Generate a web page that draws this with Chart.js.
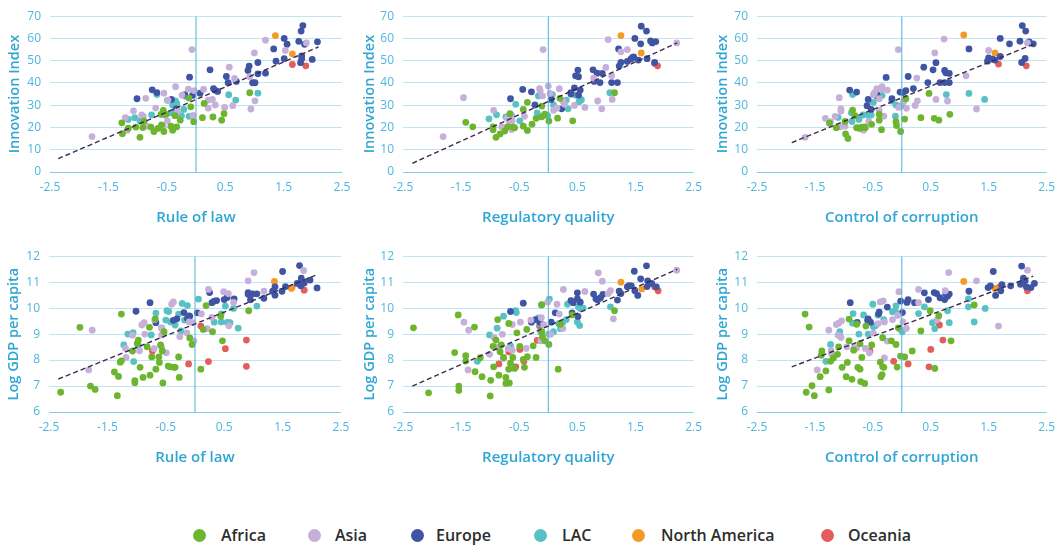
<!DOCTYPE html>
<html><head><meta charset="utf-8">
<script src="https://cdn.jsdelivr.net/npm/chart.js@4"></script>
<style>
body{margin:0;background:#fff;width:1063px;height:545px;position:relative;overflow:hidden;font-family:"Open Sans",sans-serif;}
canvas{position:absolute;}
.lg{position:absolute;top:524px;height:22px;font:600 16px "Open Sans";color:#2d2d2d;line-height:22px;white-space:nowrap;}
.dot{position:absolute;width:13px;height:13px;border-radius:50%;top:529px;}
</style></head><body>
<canvas id="c1" width="360" height="235"></canvas>
<canvas id="c2" width="360" height="235"></canvas>
<canvas id="c3" width="360" height="235"></canvas>
<canvas id="c4" width="360" height="235"></canvas>
<canvas id="c5" width="360" height="235"></canvas>
<canvas id="c6" width="360" height="235"></canvas>
<div id="legend"></div>
<script>
// ---------- DATA ----------
const regions = ['Africa','Asia','Europe','LAC','North America','Oceania'];
const xTitles = ['Rule of law','Regulatory quality','Control of corruption','Rule of law','Regulatory quality','Control of corruption'];
const yTitles = ['Innovation Index','Innovation Index','Innovation Index','Log GDP per capita','Log GDP per capita','Log GDP per capita'];
const xTickValues = [-2.5,-1.5,-0.5,0.5,1.5,2.5];
const innovRange = [0,70,10];
const gdpRange = [6,12,1];

// Panel 1: Rule of law vs Innovation Index
const africa1 = [[-1.27,22.1],[-1.26,17.2],[-1.16,19.7],[-1.03,20.2],[-0.96,15.6],[-0.91,20.0],[-0.89,22.9],[-0.77,20.2],[-0.72,18.2],[-0.65,19.6],[-0.59,21.2],[-0.56,27.7],[-0.55,18.2],[-0.60,25.9],[-0.51,25.9],[-0.43,20.6],[-0.40,18.8],[-0.33,20.3],[-0.36,25.3],[-0.27,23.3],[-0.12,33.2],[-0.09,29.3],[-0.04,22.6],[0.14,30.8],[0.11,24.4],[0.29,24.7],[0.44,23.3],[0.48,26.2],[0.92,35.6]];
const asia1 = [[-1.78,15.9],[-0.07,55.0],[1.19,59.2],[1.89,58.0],[1.53,54.6],[1.00,53.5],[0.57,47.1],[0.66,42.0],[0.92,42.8],[1.01,32.0],[0.94,28.3],[0.63,29.8],[0.49,29.0],[0.33,30.1],[0.28,32.6],[0.21,32.3],[0.13,37.2],[0.21,28.7],[-0.03,36.6],[-0.13,37.2],[-0.05,25.4],[-0.24,34.5],[-0.35,38.3],[-0.55,35.4],[-0.48,32.3],[-0.69,28.7],[-0.86,33.1],[-0.90,25.0],[-0.93,25.6],[-1.07,27.5],[-1.21,24.4],[-1.18,18.7],[-0.83,20.6],[-0.56,20.6],[-0.49,23.0],[-0.32,27.2]];
const europe1 = [[1.83,65.8],[1.80,63.3],[1.51,60.0],[1.76,58.7],[1.56,57.4],[1.86,57.4],[2.08,58.5],[1.33,55.3],[1.81,52.2],[1.81,50.9],[1.51,50.9],[1.37,49.8],[1.99,50.6],[1.79,49.1],[1.06,49.2],[0.91,47.6],[0.89,45.6],[0.24,45.9],[1.06,44.1],[1.19,44.4],[0.52,42.9],[-0.11,42.6],[0.55,40.1],[0.69,40.7],[0.97,40.1],[1.01,40.1],[0.30,37.5],[0.32,36.8],[0.37,36.2],[0.07,35.4],[-0.75,36.9],[-0.67,35.7],[-1.01,32.9],[-0.06,34.4],[-0.19,34.7],[-0.42,32.6],[-0.34,28.4]];
const lac1 = [[1.06,35.4],[0.68,32.3],[0.56,34.7],[-0.67,34.8],[-0.49,32.2],[-0.35,31.9],[-0.33,30.8],[-0.21,28.1],[-0.19,34.1],[-1.16,23.6],[-1.05,24.4],[-0.96,23.0],[-0.76,25.6],[-0.43,26.6],[-0.25,25.3],[-0.12,25.0],[-0.40,30.1],[-0.55,25.7]];
const na1 = [[1.36,61.3],[1.65,53.1]];
const oce1 = [[1.65,48.3],[1.88,47.7]];
const trend1 = [[-2.36,6.0],[2.10,56.2]];

// Panel 2: Regulatory quality vs Innovation Index
const africa2 = [[-1.42,22.3],[-1.30,20.3],[-0.95,20.3],[-0.95,19.0],[-0.90,15.6],[-0.83,17.1],[-0.75,18.4],[-0.70,20.3],[-0.66,26.2],[-0.61,20.2],[-0.58,19.9],[-0.43,20.6],[-0.43,28.1],[-0.36,31.3],[-0.36,18.7],[-0.28,21.5],[-0.21,24.1],[-0.11,29.6],[-0.11,24.8],[-0.06,26.0],[0.01,22.9],[0.16,24.2],[0.20,33.1],[0.42,23.0],[1.14,35.6]];
const asia2 = [[-1.81,15.9],[-1.46,33.4],[-0.09,55.0],[1.03,59.5],[1.25,54.0],[1.36,55.0],[2.21,58.0],[0.99,47.0],[1.09,43.2],[0.78,42.2],[1.10,32.6],[0.85,31.9],[0.92,28.4],[0.63,29.0],[0.45,29.9],[0.00,38.6],[-0.15,37.5],[-0.14,36.5],[-0.10,34.2],[0.03,35.3],[0.19,37.4],[0.09,27.8],[0.15,28.7],[0.28,30.4],[0.25,31.9],[-0.41,25.0],[-0.63,25.4],[-0.71,24.1],[-0.94,27.7],[-0.67,22.7],[-0.62,23.0],[-0.63,19.1],[-0.80,20.3]];
const europe2 = [[1.60,65.5],[1.69,63.3],[1.49,60.0],[1.59,57.6],[1.76,58.9],[1.79,58.0],[1.85,58.6],[1.21,55.3],[1.25,49.2],[1.36,49.7],[1.42,50.7],[1.45,51.5],[1.47,51.7],[1.55,50.3],[1.70,50.9],[1.83,49.2],[1.22,47.6],[0.77,45.9],[0.51,45.8],[0.84,44.4],[0.93,44.3],[0.47,43.2],[0.52,42.8],[0.79,40.7],[0.89,40.2],[1.09,40.2],[1.19,40.2],[0.45,37.8],[0.55,36.8],[0.39,35.7],[0.39,35.0],[0.52,34.5],[-0.44,37.1],[-0.29,36.0],[-0.65,32.9],[-0.23,30.1],[0.23,28.4],[0.05,32.6]];
const lac2 = [[1.06,35.6],[0.07,34.8],[-0.17,34.2],[0.31,32.3],[0.34,28.4],[0.57,32.5],[0.53,31.6],[0.47,34.5],[0.09,30.1],[-0.56,30.4],[-1.02,23.9],[-0.89,25.7],[-0.49,23.0],[-0.19,26.6],[-0.15,24.8],[-0.12,25.0],[-0.01,25.3],[-0.73,24.8]];
const na2 = [[1.25,61.3],[1.60,53.5]];
const oce2 = [[1.83,48.8],[1.88,47.7]];
const trend2 = [[-2.34,3.9],[2.22,58.0]];

// Panel 3: Control of corruption vs Innovation Index
const africa3 = [[-1.25,22.0],[-1.13,19.9],[-0.98,22.7],[-0.97,17.1],[-0.93,15.1],[-0.85,27.8],[-0.81,25.3],[-0.78,19.9],[-0.73,19.6],[-0.70,20.2],[-0.65,20.3],[-0.63,19.9],[-0.52,21.4],[-0.39,23.3],[-0.39,25.9],[-0.35,19.0],[-0.10,22.6],[-0.09,20.9],[-0.02,18.2],[0.05,23.8],[0.07,32.9],[0.33,24.4],[0.47,35.3],[0.56,24.1],[0.64,23.3],[0.83,25.9]];
const asia3 = [[-1.67,15.6],[-0.06,55.0],[0.73,59.7],[0.57,53.5],[1.50,54.6],[2.17,58.0],[1.11,43.2],[0.26,42.2],[0.59,32.6],[0.79,31.9],[1.29,28.3],[0.27,32.0],[0.23,29.9],[0.08,28.6],[-0.05,29.0],[0.03,31.6],[-0.34,38.3],[-0.34,37.2],[-0.43,37.5],[-0.25,36.8],[-0.47,35.6],[-0.49,34.7],[-0.39,32.9],[-1.08,33.4],[-1.05,28.4],[-1.05,27.4],[-0.31,25.1],[-0.57,22.7],[-1.15,25.0],[-1.32,24.1],[-1.23,22.6],[-0.98,20.6],[-1.06,20.3],[-0.66,18.8],[-0.39,27.8]];
const europe3 = [[2.08,65.8],[2.14,63.3],[1.70,60.0],[1.86,57.6],[2.04,58.8],[2.20,58.5],[2.27,57.6],[1.16,55.3],[1.70,51.9],[1.50,51.3],[1.57,50.7],[1.61,50.3],[1.48,49.8],[2.13,51.0],[2.07,49.2],[0.59,49.1],[0.38,47.1],[0.54,45.9],[0.74,45.6],[0.76,44.6],[0.82,44.3],[0.11,42.9],[-0.27,42.5],[0.45,40.2],[0.66,40.2],[0.74,40.2],[0.82,40.2],[0.20,37.5],[0.07,36.5],[-0.03,35.9],[0.02,35.7],[-0.90,36.8],[-0.78,35.9],[-0.43,34.8],[-0.43,34.1],[-0.58,32.6],[-0.17,32.9],[-0.60,29.8],[-0.53,28.1]];
const lac3 = [[1.16,35.3],[1.43,32.6],[0.77,34.8],[-0.10,30.1],[0.00,29.8],[-0.34,34.4],[-0.49,31.3],[-0.17,31.9],[-0.85,34.8],[-1.10,24.5],[-0.87,26.6],[-0.86,22.7],[-0.74,23.6],[-0.67,25.6],[-0.57,25.3],[-0.53,25.6],[-0.11,25.1]];
const na3 = [[1.07,61.6],[1.61,53.5]];
const oce3 = [[1.67,48.5],[2.15,47.7]];
const trend3 = [[-1.90,13.2],[2.30,57.7]];

// Panel 4: Rule of law vs Log GDP per capita
const africa4 = [[-2.30,6.76],[-1.97,9.26],[-1.26,9.77],[-1.79,7.00],[-1.71,6.87],[-1.38,7.54],[-1.31,7.37],[-1.33,6.63],[-1.28,7.92],[-1.26,7.97],[-1.07,8.35],[-1.03,7.21],[-1.03,7.13],[-0.99,8.64],[-0.97,8.77],[-0.94,7.72],[-0.89,7.33],[-0.82,8.51],[-0.78,9.26],[-0.77,7.42],[-0.74,8.12],[-0.68,9.59],[-0.67,7.65],[-0.62,8.12],[-0.61,7.91],[-0.55,7.12],[-0.53,9.09],[-0.59,8.58],[-0.56,8.35],[-0.46,7.77],[-0.42,7.74],[-0.36,7.72],[-0.34,7.72],[-0.28,8.12],[-0.27,7.33],[-0.09,8.85],[-0.05,8.60],[0.10,7.65],[0.14,9.18],[0.19,10.10],[0.30,9.09],[0.44,9.69],[0.47,8.74],[0.92,9.90]];
const asia4 = [[1.86,11.45],[1.01,11.37],[0.91,11.05],[1.18,10.65],[0.23,10.72],[0.49,10.63],[0.57,10.56],[0.66,10.22],[-0.37,10.24],[-0.40,10.15],[0.11,9.78],[-0.10,9.47],[-0.04,9.44],[-0.02,8.74],[-0.14,9.05],[0.21,9.21],[0.29,9.64],[0.58,9.32],[-0.87,9.44],[-0.91,9.35],[-0.69,9.56],[-0.57,9.22],[-0.57,8.96],[-1.07,8.96],[-0.86,9.00],[-0.70,8.44],[-0.57,8.49],[-0.95,8.36],[-1.19,8.45],[-1.18,8.10],[-0.49,8.28],[-1.76,9.15],[-1.82,7.62],[-0.26,8.90]];
const europe4 = [[1.79,11.64],[1.50,11.41],[1.82,11.15],[1.97,11.08],[1.87,10.97],[1.75,10.95],[1.83,10.92],[1.81,10.86],[1.55,10.83],[1.37,10.82],[1.33,10.65],[1.49,10.65],[1.37,10.50],[1.18,10.38],[2.09,10.78],[0.25,10.60],[0.91,10.60],[0.91,10.53],[0.99,10.55],[1.06,10.55],[0.95,10.32],[0.67,10.36],[0.50,10.33],[0.55,10.41],[0.37,10.29],[0.33,10.27],[0.29,10.21],[-0.77,10.21],[-1.01,9.88],[0.04,9.82],[-0.19,9.83],[-0.09,9.69],[-0.31,9.59],[-0.37,9.53],[-0.67,9.44],[-0.13,9.60]];
const lac4 = [[0.06,10.35],[-0.22,10.18],[-0.13,10.10],[-0.11,9.71],[-0.67,9.81],[-0.48,9.90],[-0.45,9.87],[-0.50,9.54],[-0.42,9.47],[-0.34,9.35],[-0.28,9.77],[-0.18,9.54],[-0.24,9.12],[-0.57,9.24],[-0.75,8.97],[-1.15,9.00],[-1.06,9.06],[-1.22,8.58],[-1.05,7.94],[-0.97,8.56],[0.33,9.46],[0.45,9.78],[0.52,10.08],[0.55,9.45],[0.60,9.44],[0.66,9.99],[0.74,9.23],[1.06,10.08],[0.45,9.47]];
const na4 = [[1.36,11.03],[1.65,10.76]];
const oce4 = [[-0.73,8.35],[-0.11,7.85],[0.10,9.31],[0.23,7.94],[0.52,8.44],[0.88,8.77],[0.88,7.76],[1.66,10.79],[1.87,10.69]];
const trend4 = [[-2.34,7.27],[2.06,11.26]];

// Panel 5: Regulatory quality vs Log GDP per capita
const africa5 = [[-2.32,9.24],[-2.06,6.74],[-1.55,9.74],[-1.61,8.29],[-1.42,8.17],[-1.42,7.96],[-1.54,7.00],[-1.54,6.83],[-1.27,9.27],[-1.26,7.55],[-1.17,8.09],[-1.14,7.36],[-1.00,6.62],[-0.99,7.22],[-0.95,8.53],[-0.94,7.74],[-0.90,8.77],[-0.87,9.56],[-0.85,7.42],[-0.83,8.32],[-0.81,8.58],[-0.77,8.10],[-0.73,7.33],[-0.73,7.10],[-0.67,7.12],[-0.68,9.41],[-0.68,7.65],[-0.65,7.88],[-0.61,8.10],[-0.58,7.68],[-0.54,9.05],[-0.49,8.53],[-0.43,8.03],[-0.41,7.72],[-0.37,9.18],[-0.36,8.13],[-0.26,8.55],[-0.21,8.10],[-0.11,9.09],[-0.10,8.90],[-0.06,8.74],[0.01,8.60],[0.17,7.65],[0.21,9.38],[-0.11,10.13],[0.41,9.74],[1.14,9.90]];
const asia5 = [[2.21,11.46],[0.86,11.36],[0.93,11.04],[1.07,10.67],[1.03,10.56],[1.12,9.59],[0.26,10.72],[0.63,10.64],[-0.01,10.24],[0.15,10.15],[0.19,9.77],[0.25,9.22],[-0.08,9.36],[0.04,8.99],[-0.12,9.63],[-0.30,9.54],[-0.48,9.46],[-0.62,9.37],[-1.45,9.46],[-1.37,9.15],[-0.79,8.99],[-0.93,8.86],[-0.88,8.49],[-1.01,8.22],[-0.77,8.06],[-0.69,8.44],[-0.62,8.38],[-0.38,8.45],[-1.38,7.62],[-0.13,8.74]];
const europe5 = [[1.69,11.63],[1.48,11.42],[1.59,11.13],[1.71,11.05],[1.78,10.95],[1.86,10.82],[1.70,10.83],[1.43,10.86],[1.36,10.82],[1.39,10.87],[1.49,10.67],[1.54,10.49],[1.22,10.65],[1.25,10.56],[1.19,10.31],[0.78,10.54],[0.90,10.40],[0.94,10.53],[0.82,10.36],[0.85,10.31],[0.50,10.59],[0.50,10.36],[0.55,10.23],[0.39,10.29],[0.43,10.21],[0.41,9.82],[0.51,9.68],[-0.43,10.19],[-0.65,9.87],[-0.29,9.46],[-0.22,9.56],[0.05,9.46],[0.12,9.82],[-0.14,9.45]];
const lac5 = [[0.02,10.35],[-0.12,10.12],[0.33,10.15],[-0.77,9.69],[-0.56,9.90],[-0.55,9.83],[-0.17,9.62],[-0.15,9.40],[-0.13,9.08],[0.18,9.40],[0.25,9.46],[0.31,9.56],[0.52,10.05],[0.55,9.99],[0.60,10.00],[0.50,9.47],[0.54,9.33],[0.09,9.09],[0.01,9.00],[0.21,9.21],[-0.88,9.23],[-1.01,8.97],[-0.65,8.56],[-1.22,7.95],[1.07,10.05]];
const na5 = [[1.25,11.00],[1.61,10.74]];
const oce5 = [[-0.85,7.85],[-0.68,8.32],[-0.56,7.74],[-0.49,8.41],[-0.42,7.95],[-0.19,8.76],[-0.15,9.31],[1.83,10.81],[1.89,10.67]];
const trend5 = [[-2.34,7.0],[2.22,11.5]];

// Panel 6: Control of corruption vs Log GDP per capita
const africa6 = [[-1.67,9.77],[-1.60,9.27],[-1.65,6.76],[-1.55,7.01],[-1.51,6.63],[-1.38,8.35],[-1.39,8.19],[-1.41,7.36],[-1.26,6.85],[-1.31,7.58],[-1.23,7.95],[-1.18,8.08],[-1.11,8.22],[-1.09,8.51],[-1.03,7.72],[-0.94,7.91],[-0.96,7.36],[-0.91,8.74],[-0.91,9.58],[-0.83,8.38],[-0.86,7.26],[-0.78,9.38],[-0.76,7.72],[-0.72,7.65],[-0.72,8.63],[-0.69,8.10],[-0.71,7.17],[-0.64,7.10],[-0.62,9.31],[-0.52,8.58],[-0.37,7.92],[-0.36,7.36],[-0.34,7.44],[-0.33,7.74],[-0.33,8.86],[-0.31,7.72],[-0.18,8.74],[-0.10,8.60],[-0.08,7.73],[-0.06,9.24],[-0.02,8.15],[0.05,8.12],[0.18,8.35],[0.33,9.12],[0.49,9.90],[0.57,7.68],[0.64,9.71],[0.85,8.74],[1.25,10.12]];
const asia6 = [[2.17,11.46],[0.81,11.37],[1.29,11.05],[0.75,10.67],[0.29,10.72],[-0.05,10.63],[1.67,9.31],[0.29,10.21],[0.61,9.56],[-0.37,10.24],[-0.32,10.28],[-1.26,9.15],[-1.13,9.37],[-1.09,9.42],[-1.04,9.51],[-1.10,8.96],[-1.05,8.87],[-0.95,8.51],[-0.82,8.49],[-0.78,8.46],[-0.63,8.45],[-0.56,8.28],[-1.22,8.37],[-1.21,8.22],[-1.46,7.62],[-0.30,8.08],[-0.25,8.73],[-0.30,9.47],[-0.16,9.56],[-0.07,9.72],[0.02,9.47],[0.08,9.22],[-0.41,9.40],[-0.49,9.04]];
const europe6 = [[2.07,11.62],[1.58,11.41],[2.10,11.15],[2.13,11.05],[2.05,10.92],[2.15,10.82],[2.23,10.79],[2.29,10.95],[1.73,10.90],[1.88,10.86],[1.49,10.79],[1.53,10.86],[1.71,10.67],[1.62,10.49],[1.16,10.65],[0.76,10.56],[0.82,10.54],[0.79,10.46],[0.66,10.40],[0.74,10.33],[0.56,10.60],[0.60,10.56],[0.39,10.59],[0.46,10.33],[0.22,10.21],[0.11,10.33],[0.09,10.22],[-0.02,10.27],[0.01,9.83],[-0.25,10.04],[-0.39,9.85],[-0.40,9.78],[-0.89,10.21],[-0.77,9.45],[-0.58,9.59],[-0.54,9.46],[-0.59,9.53]];
const lac6 = [[1.15,10.36],[1.44,9.99],[1.15,10.05],[1.25,9.47],[0.79,9.90],[0.82,9.44],[0.39,10.05],[0.29,9.79],[0.53,9.44],[0.57,9.21],[-0.03,9.19],[0.01,9.09],[-0.10,10.09],[-0.16,9.86],[-0.11,9.87],[-0.50,10.15],[-0.66,9.74],[-0.84,9.79],[-0.85,9.42],[-0.41,9.73],[-0.49,9.28],[-0.45,9.33],[-0.58,9.00],[-0.74,9.00],[-1.07,9.09],[-1.23,8.60],[-1.31,7.95],[-0.31,9.56]];
const na6 = [[1.07,11.03],[1.61,10.76]];
const oce6 = [[-0.55,8.35],[-0.14,7.95],[0.11,7.85],[0.47,7.74],[0.50,8.41],[0.65,9.35],[0.71,8.77],[1.69,10.82],[2.17,10.67]];
const trend6 = [[-1.90,7.74],[2.27,11.23]];

// ---------- STYLE / LAYOUT ----------
const regionColors = ['#6cb52d','#c6b0da','#3f55a3','#57c1c3','#f39b25','#e35d5d'];
const panels = [
  {series:[africa1,asia1,europe1,lac1,na1,oce1], trend:trend1, range:innovRange, left:0,   top:0,   yW:50, padR:18, tPad:6},
  {series:[africa2,asia2,europe2,lac2,na2,oce2], trend:trend2, range:innovRange, left:350, top:0,   yW:53, padR:16, tPad:11},
  {series:[africa3,asia3,europe3,lac3,na3,oce3], trend:trend3, range:innovRange, left:703, top:0,   yW:54, padR:15, tPad:11},
  {series:[africa4,asia4,europe4,lac4,na4,oce4], trend:trend4, range:gdpRange,   left:0,   top:240, yW:49, padR:19, tPad:5},
  {series:[africa5,asia5,europe5,lac5,na5,oce5], trend:trend5, range:gdpRange,   left:350, top:240, yW:53, padR:16, tPad:11},
  {series:[africa6,asia6,europe6,lac6,na6,oce6], trend:trend6, range:gdpRange,   left:703, top:240, yW:54, padR:15, tPad:11}
];
const tickColor = '#4fb6de';
const titleColor = '#2fa6d4';
const toXY = a => a.map(p => ({x:p[0], y:p[1]}));

panels.forEach((p, i) => {
  const cv = document.getElementById('c' + (i + 1));
  cv.style.left = p.left + 'px';
  cv.style.top = p.top + 'px';
  const [yMin, yMax, yStep] = p.range;
  const datasets = [];
  datasets.push({type:'line', data:toXY(p.trend), borderColor:'#3b2b4e', borderWidth:1.4,
    borderDash:[5,3], pointRadius:0, fill:false, tension:0});
  datasets.push({type:'line', data:[{x:0,y:yMin},{x:0,y:yMax}], borderColor:'#4db2d8', borderWidth:1,
    pointRadius:0, fill:false});
  p.series.forEach((s, k) => {
    datasets.push({type:'scatter', label:regions[k], data:toXY(s), backgroundColor:regionColors[k],
      borderWidth:0, pointRadius:3.4, pointHoverRadius:3.4});
  });
  new Chart(cv, {
    type:'scatter',
    data:{datasets},
    options:{
      responsive:false, animation:false, devicePixelRatio:1,
      layout:{padding:{left:0, top:16, right:p.padR, bottom:0}},
      plugins:{legend:{display:false}, tooltip:{enabled:false}},
      scales:{
        x:{type:'linear', min:-2.5, max:2.5,
          afterBuildTicks:s => { s.ticks = xTickValues.map(v => ({value:v})); },
          afterFit:s => { s.height = 63; },
          grid:{display:false, drawTicks:false}, border:{display:false},
          ticks:{color:tickColor, padding:8, font:{family:'Open Sans', size:12}, callback:v => String(v), maxRotation:0, autoSkip:false},
          title:{display:true, text:xTitles[i], color:titleColor, font:{family:'Open Sans', size:15, weight:'600'}, padding:{top:0, bottom:8.5}}
        },
        y:{type:'linear', min:yMin, max:yMax,
          afterFit:s => { s.width = p.yW; },
          ticks:{stepSize:yStep, color:tickColor, padding:9, font:{family:'Open Sans', size:12}},
          grid:{drawTicks:false, color:c => c.tick && c.tick.value === yMin ? '#86cbe6' : '#bfe4f2', lineWidth:1},
          border:{display:false},
          title:{display:true, text:yTitles[i], color:titleColor, font:{family:'Open Sans', size:14.5, weight:'600'}, padding:{top:p.tPad, bottom:0}}
        }
      }
    }
  });
});

// legend
const legendPos = [[199,221],[314,335],[417,436],[540,562],[638,661],[827,848]];
const lg = document.getElementById('legend');
regions.forEach((r, k) => {
  const d = document.createElement('div');
  d.className = 'dot';
  d.style.left = (legendPos[k][0] - 6.5) + 'px';
  d.style.background = regionColors[k];
  lg.appendChild(d);
  const t = document.createElement('div');
  t.className = 'lg';
  t.style.left = legendPos[k][1] + 'px';
  t.textContent = r;
  lg.appendChild(t);
});
</script>
</body></html>
